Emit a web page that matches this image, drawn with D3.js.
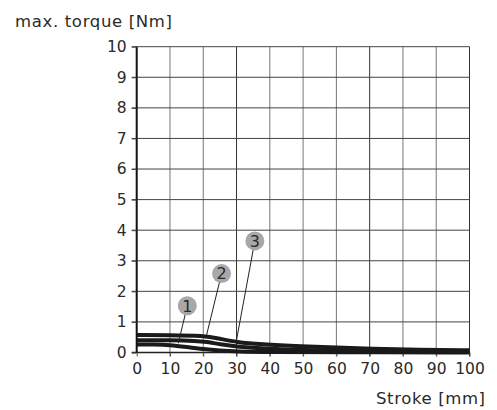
<!DOCTYPE html>
<html><head><meta charset="utf-8">
<script src="https://cdn.jsdelivr.net/npm/d3@7"></script>
<style>body{margin:0;background:#fff}svg{display:block}text{font-family:"DejaVu Sans",sans-serif;fill:#2a2a2a}</style>
</head><body>
<script>
const xTicks = [0,10,20,30,40,50,60,70,80,90,100];
const yTicks = [0,1,2,3,4,5,6,7,8,9,10];
const curve1 = [[0,0.26],[5,0.26],[10,0.25],[15,0.18],[20,0.11],[25,0.06],[30,0.03],[40,0.015],[60,0.01],[100,0.0],[100,0.0]];
const curve2 = [[0,0.4],[10,0.4],[18,0.38],[21,0.35],[25,0.27],[30,0.19],[40,0.12],[50,0.08],[60,0.06],[70,0.05],[100,0.03],[100,0.03]];
const curve3 = [[0,0.57],[10,0.57],[20,0.55],[25,0.45],[30,0.34],[37,0.27],[50,0.2],[60,0.16],[70,0.12],[85,0.09],[100,0.07],[100,0.07]];
const labels = [
  {n:"1", cx:15.2, cy:1.53, ex:12.5, ey:0.3},
  {n:"2", cx:25.5, cy:2.58, ex:21, ey:0.57},
  {n:"3", cx:35.5, cy:3.65, ex:30, ey:0.41}
];
const W=497,H=410;
const svg=d3.select("body").append("svg").attr("width",W).attr("height",H);
const x=d3.scaleLinear().domain([0,100]).range([136.7,469.5]);
const y=d3.scaleLinear().domain([0,10]).range([352.5,46.7]);

// grid
svg.append("g").selectAll("line").data(xTicks.slice(1)).join("line")
  .attr("x1",d=>x(d)).attr("x2",d=>x(d)).attr("y1",y(10)).attr("y2",y(0)+4)
  .attr("stroke",d=>(d===30||d===70||d===100)?"#333":"#777").attr("stroke-width",1);
svg.append("g").selectAll("line").data(yTicks.slice(1)).join("line")
  .attr("x1",x(0)-5).attr("x2",x(100)).attr("y1",d=>y(d)).attr("y2",d=>y(d))
  .attr("stroke","#444").attr("stroke-width",1);

// axes
const xa=svg.append("g").attr("transform",`translate(0,${y(0)})`)
  .call(d3.axisBottom(x).tickValues(xTicks).tickSize(4).tickPadding(6).tickFormat(d3.format("d")));
xa.select(".domain").attr("stroke","#222").attr("stroke-width",1.3).attr("d",`M${x(0)-5},0H${x(100)}`);
xa.selectAll(".tick line").attr("stroke","#555");
xa.selectAll("text").attr("font-size",15.5).attr("fill","#2a2a2a").attr("font-family","DejaVu Sans");
const ya=svg.append("g").attr("transform",`translate(${x(0)},0)`)
  .call(d3.axisLeft(y).tickValues(yTicks).tickSize(5).tickPadding(5).tickFormat(d3.format("d")));
ya.select(".domain").attr("stroke","#111").attr("stroke-width",2).attr("d",`M0,${y(10)}V${y(0)}`);
ya.selectAll(".tick line").attr("stroke","#444");
ya.selectAll("text").attr("font-size",15.5).attr("fill","#2a2a2a").attr("font-family","DejaVu Sans");

// curves
const line=d3.line().x(d=>x(d[0])).y(d=>y(d[1])).curve(d3.curveBasis);
[curve1,curve2,curve3].forEach(c=>{
  svg.append("path").attr("d",line(c)).attr("fill","none").attr("stroke","#1a1a1a").attr("stroke-width",4);
});

// labels
labels.forEach(l=>{
  svg.append("line").attr("x1",x(l.cx)).attr("y1",y(l.cy)).attr("x2",x(l.ex)).attr("y2",y(l.ey))
    .attr("stroke","#222").attr("stroke-width",1);
  svg.append("circle").attr("cx",x(l.cx)).attr("cy",y(l.cy)).attr("r",9.5).attr("fill","#a8a8a8");
  svg.append("text").attr("x",x(l.cx)).attr("y",y(l.cy)+5.8).attr("text-anchor","middle").attr("font-size",16).text(l.n);
});

svg.append("text").attr("x",15).attr("y",27).attr("font-size",16.5)
  .attr("textLength",157).attr("lengthAdjust","spacing").text("max. torque [Nm]");
svg.append("text").attr("x",376).attr("y",404).attr("font-size",16.5)
  .attr("textLength",109).attr("lengthAdjust","spacing").text("Stroke [mm]");
</script>
</body></html>
